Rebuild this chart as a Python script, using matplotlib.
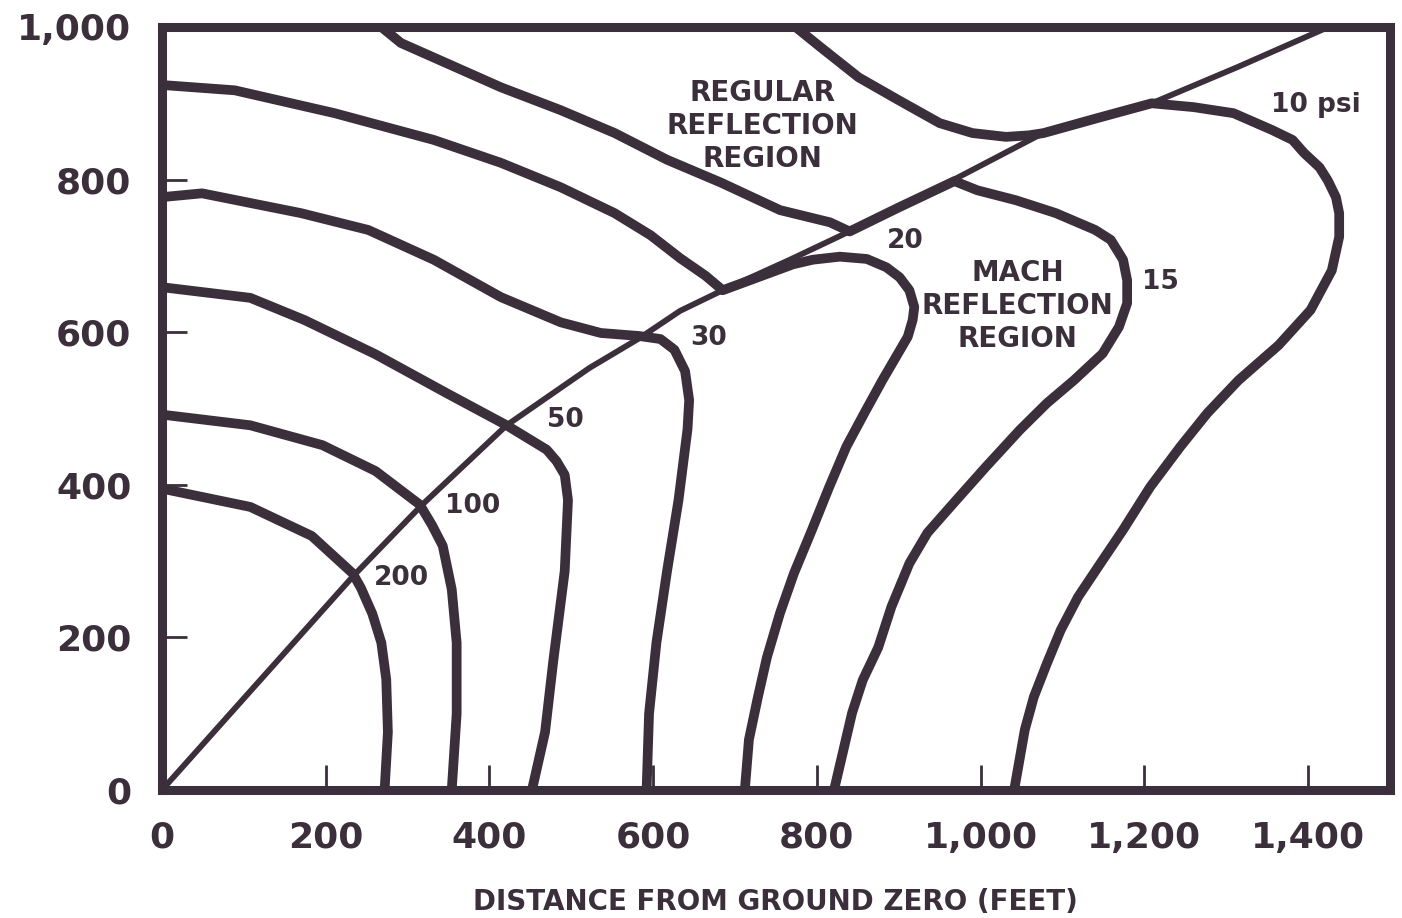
import matplotlib
matplotlib.use("Agg")
import matplotlib.pyplot as plt

INK = "#3a2f3b"

# triple-point path (thin diagonal line)
triple_x = [0, 130, 235, 318, 421, 522, 583, 633, 685, 767, 828, 962, 1071, 1209, 1315, 1425]
triple_y = [0, 156, 282, 374, 478, 553, 592, 628, 655, 695, 726, 797, 858, 900, 948, 1000]

# overpressure contours, psi
c200_x = [0, 108, 183, 233, 243, 257, 268, 274, 276, 272]
c200_y = [395, 371, 333, 284, 265, 231, 193, 145, 76, 0]

c100_x = [0, 108, 196, 261, 315, 330, 343, 354, 360, 360, 354]
c100_y = [492, 478, 452, 418, 374, 347, 320, 263, 193, 100, 0]

c50_x = [0, 108, 174, 261, 348, 421, 470, 482, 492, 496, 492, 478, 468, 452]
c50_y = [659, 645, 616, 571, 520, 478, 446, 431, 413, 380, 287, 169, 76, 0]

c30_x = [0, 49, 170, 252, 332, 414, 487, 536, 583, 609, 626, 639, 644, 642, 631, 617, 604, 595, 592]
c30_y = [777, 782, 756, 734, 695, 646, 613, 599, 595, 591, 577, 549, 511, 473, 380, 287, 193, 100, 0]

c20_x = [0, 89, 211, 332, 414, 487, 553, 597, 633, 664, 685, 771, 795, 828, 861, 885,
         901, 913, 919, 917, 911, 880, 858, 836, 815, 794, 772, 755, 739, 728, 717, 712]
c20_y = [924, 917, 887, 852, 822, 790, 756, 727, 697, 674, 655, 689, 695, 699, 696, 685,
         672, 655, 633, 616, 594, 537, 494, 450, 397, 341, 284, 232, 174, 122, 66, 0]

c15_x = [268, 292, 332, 414, 487, 553, 617, 683, 755, 816, 840, 901, 968, 996, 1043, 1092,
         1140, 1159, 1174, 1179, 1179, 1169, 1149, 1114, 1081, 1048, 1006, 967, 935, 913,
         891, 875, 856, 843, 821]
c15_y = [1000, 979, 960, 921, 891, 861, 826, 796, 760, 744, 732, 764, 798, 786, 773, 756,
         734, 721, 695, 668, 638, 607, 572, 537, 507, 472, 423, 376, 337, 297,
         240, 187, 144, 101, 0]

c10_x = [774, 804, 851, 900, 950, 990, 1031, 1059, 1077, 1144, 1209, 1260, 1309, 1356, 1381,
         1395, 1414, 1424, 1434, 1438, 1438, 1429, 1403, 1364, 1315, 1277, 1244, 1207, 1174,
         1147, 1119, 1098, 1081, 1065, 1054, 1041]
c10_y = [1000, 974, 934, 904, 874, 861, 856, 858, 861, 881, 900, 895, 887, 865, 852,
         835, 816, 799, 777, 756, 725, 681, 629, 583, 537, 494, 450, 397, 341,
         298, 253, 210, 166, 122, 79, 0]

contours = [(c200_x, c200_y), (c100_x, c100_y), (c50_x, c50_y), (c30_x, c30_y),
            (c20_x, c20_y), (c15_x, c15_y), (c10_x, c10_y)]

# contour labels and where they sit
label_text = ["200", "100", "50", "30", "20", "15", "10 psi"]
label_x = [292, 380, 493, 668, 908, 1220, 1410]
label_y = [278, 372, 485, 592, 720, 666, 898]

ticks = [0, 200, 400, 600, 800, 1000, 1200, 1400]
yticks = [0, 200, 400, 600, 800, 1000]

fig = plt.figure(figsize=(14.02, 9.18), dpi=100)
ax = fig.add_axes([0.1155, 0.1394, 0.8759, 0.8312])

ax.plot(triple_x, triple_y, color=INK, lw=4.2, solid_capstyle="round", solid_joinstyle="round")
for cx, cy in contours:
    ax.plot(cx, cy, color=INK, lw=7, solid_capstyle="round", solid_joinstyle="round")

for t, lx, ly in zip(label_text, label_x, label_y):
    ax.text(lx, ly, t, fontsize=19, fontweight="bold", color=INK, ha="center", va="center")

ax.text(734, 870, "REGULAR\nREFLECTION\nREGION", fontsize=20, fontweight="bold",
        color=INK, ha="center", va="center", linespacing=1.22)
ax.text(1045, 634, "MACH\nREFLECTION\nREGION", fontsize=20, fontweight="bold",
        color=INK, ha="center", va="center", linespacing=1.22)

ax.set_xlim(0, 1500)
ax.set_ylim(0, 1000)
ax.set_xticks(ticks)
ax.set_xticklabels([f"{t:,}" for t in ticks])
ax.set_yticks(yticks)
ax.set_yticklabels([f"{t:,}" for t in yticks])
ax.tick_params(direction="in", length=18, width=2, color=INK, labelcolor=INK,
               labelsize=26, pad=22)
for lab in ax.get_xticklabels() + ax.get_yticklabels():
    lab.set_fontweight("bold")

for s in ax.spines.values():
    s.set_linewidth(6.5)
    s.set_color(INK)

ax.set_xlabel("DISTANCE FROM GROUND ZERO (FEET)", fontsize=20, fontweight="bold",
              color=INK, labelpad=24)

fig.savefig("out.png", dpi=100, facecolor="white")
